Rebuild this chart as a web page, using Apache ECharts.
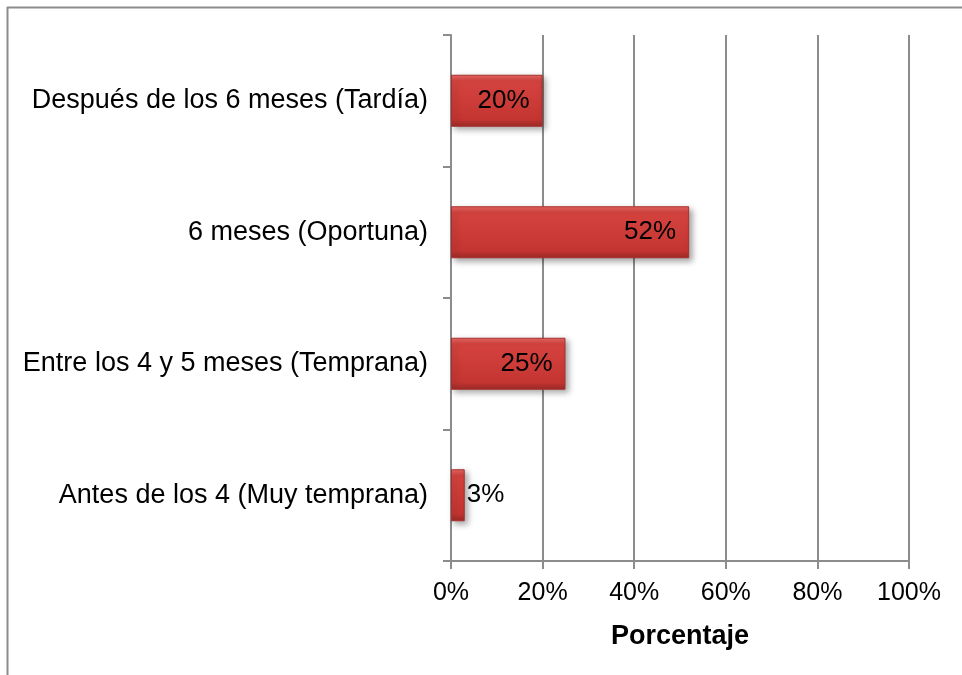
<!DOCTYPE html>
<html>
<head>
<meta charset="utf-8">
<script src="https://cdn.jsdelivr.net/npm/echarts@6/dist/echarts.min.js"></script>
<style>
html,body{margin:0;padding:0;background:#fff;}
#chart{width:962px;height:675px;}
</style>
</head>
<body>
<div id="chart"></div>
<script>
var categories = [
  'Después de los 6 meses (Tardía)',
  '6 meses (Oportuna)',
  'Entre los 4 y 5 meses (Temprana)',
  'Antes de los 4 (Muy temprana)'
];
var values = [0.20, 0.52, 0.25, 0.03];
var xTicks = [0, 0.2, 0.4, 0.6, 0.8, 1.0];
var axisTitle = 'Porcentaje';

var FONT = '"Liberation Sans", Arial, sans-serif';
var chart = echarts.init(document.getElementById('chart'), null, {renderer: 'canvas'});

var barColor = new echarts.graphic.LinearGradient(0, 0, 0, 1, [
  {offset: 0, color: '#e76a66'},
  {offset: 0.12, color: '#d5433f'},
  {offset: 0.85, color: '#c43531'},
  {offset: 1, color: '#9c2a27'}
]);

var seriesData = values.map(function (v) {
  var item = {value: v};
  if (v < 0.05) {
    item.label = {position: 'right', distance: 2};
  }
  return item;
});

chart.setOption({
  animation: false,
  backgroundColor: '#fff',
  grid: {left: 451, right: 53, top: 35, bottom: 114, containLabel: false},
  xAxis: {
    type: 'value',
    min: xTicks[0],
    max: xTicks[xTicks.length - 1],
    interval: 0.2,
    name: axisTitle,
    nameLocation: 'middle',
    nameGap: 62,
    nameTextStyle: {fontFamily: FONT, fontSize: 27, fontWeight: 'bold', color: '#000'},
    axisLine: {show: true, lineStyle: {color: '#8c8c8c', width: 2}},
    axisTick: {show: true, length: 8, lineStyle: {color: '#8c8c8c', width: 2}},
    axisLabel: {
      fontFamily: FONT, fontSize: 25, color: '#000', margin: 20,
      formatter: function (v) { return Math.round(v * 100) + '%'; }
    },
    splitLine: {show: true, lineStyle: {color: '#8c8c8c', width: 2}}
  },
  yAxis: {
    type: 'category',
    data: categories,
    inverse: true,
    axisLine: {show: true, lineStyle: {color: '#8c8c8c', width: 2}},
    axisTick: {show: true, length: 8, lineStyle: {color: '#8c8c8c', width: 2}},
    axisLabel: {fontFamily: FONT, fontSize: 27, color: '#000', margin: 23},
    splitLine: {show: false}
  },
  series: [{
    type: 'bar',
    data: seriesData,
    barWidth: 52,
    itemStyle: {
      color: barColor,
      borderColor: '#a8302c',
      borderWidth: 1,
      shadowColor: 'rgba(0,0,0,0.35)',
      shadowBlur: 6,
      shadowOffsetX: 3,
      shadowOffsetY: 3
    },
    label: {
      show: true,
      position: 'insideRight',
      distance: 13,
      fontFamily: FONT,
      fontSize: 26,
      color: '#000',
      formatter: function (p) { return Math.round(p.value * 100) + '%'; }
    }
  }],
  graphic: [
    {type: 'line', shape: {x1: 7.5, y1: 7, x2: 7.5, y2: 675}, style: {stroke: '#8c8c8c', lineWidth: 2}},
    {type: 'line', shape: {x1: 7, y1: 7.5, x2: 962, y2: 7.5}, style: {stroke: '#8c8c8c', lineWidth: 2}}
  ]
});
</script>
</body>
</html>
